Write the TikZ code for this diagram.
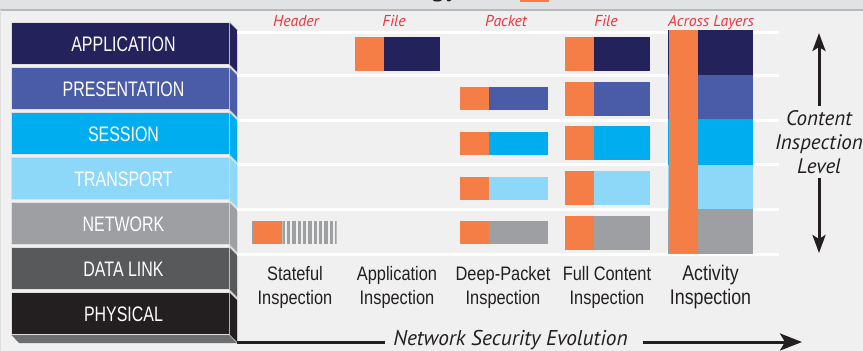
\documentclass[tikz,border=0pt]{standalone}
\usepackage{fontspec}
\newfontfamily\condfont{Liberation Sans}[FakeStretch=0.76]
\newfontfamily\labfont{Liberation Sans}[FakeStretch=0.84]
\newfontfamily\myriadfont{PT Sans}
\usetikzlibrary{arrows.meta}

\definecolor{appcol}{HTML}{23225A}
\definecolor{prescol}{HTML}{4A5BA8}
\definecolor{sesscol}{HTML}{00AEEF}
\definecolor{transcol}{HTML}{8DD8F8}
\definecolor{netcol}{HTML}{9D9FA2}
\definecolor{dlcol}{HTML}{58595B}
\definecolor{physcol}{HTML}{231F20}
\definecolor{botcol}{HTML}{6D6E70}
\definecolor{orangecol}{HTML}{F47E45}
\definecolor{bgcol}{HTML}{EFF0EF}
\definecolor{topcol}{HTML}{E1E2E4}
\definecolor{redlab}{HTML}{EC3540}
\definecolor{inktext}{HTML}{231F20}

\tikzset{
  layer/.style={rectangle, minimum width=218pt, minimum height=42.5pt, inner sep=0pt,
    draw=white!75!gray, line width=0.6pt},
  sideface/.style={fill=#1, draw=white!75!gray, line width=0.6pt},
  layertext/.style={text=white, font=\condfont\fontsize{21}{21}\selectfont,
    inner sep=0pt, xshift=3.5pt, yshift=-1.5pt},
  toplabel/.style={text=redlab, font=\myriadfont\itshape\fontsize{15.8}{15.8}\selectfont, anchor=base},
  inspect/.style={text=inktext, font=\labfont\fontsize{19.5}{24}\selectfont,
    align=center, anchor=north, inner sep=0pt},
  rowline/.style={draw=white, line width=3pt},
  vArrow/.style={draw=inktext, line width=3pt, -{Stealth[length=18pt,width=13pt,inset=4pt]}},
  hArrow/.style={draw=inktext, line width=3pt, -{Stealth[length=22pt,width=17pt,inset=5pt]}},
}

\begin{document}
\begin{tikzpicture}[x=1pt,y=-1pt]
\useasboundingbox (0,0) rectangle (863,351);
\clip (0,0) rectangle (863,351);
\fill[bgcol] (0,0) rectangle (863,351);

% title strip (cut off)
\fill[topcol] (0,0) rectangle (863,9);
\draw[gray!55, line width=1.5pt] (0,9.8) -- (863,9.8);
\draw[gray!25, line width=1pt] (0.5,10) -- (0.5,351);
\node[font=\myriadfont\bfseries\fontsize{26}{26}\selectfont, text=inktext, anchor=base east] (title) at (461,-3.7) {Technology};
\fill[orangecol] (520,-5) rectangle (549,2.2);

% OSI stack
\path[fill=botcol] (11,334.5) -- (229,334.5) -- (237,343) -- (19,343) -- cycle;
\node[layer, fill=appcol, label={[layertext]center:APPLICATION}] (app) at (120,43.25) {};
\node[layer, fill=prescol, label={[layertext]center:PRESENTATION}] (pres) at (120,88.25) {};
\node[layer, fill=sesscol, label={[layertext]center:SESSION}] (sess) at (120,133.25) {};
\node[layer, fill=transcol, label={[layertext]center:TRANSPORT}] (trans) at (120,178.25) {};
\node[layer, fill=netcol, label={[layertext]center:NETWORK}] (net) at (120,223.25) {};
\node[layer, fill=dlcol, label={[layertext]center:DATA LINK}] (dlink) at (120,268.25) {};
\node[layer, fill=physcol, label={[layertext]center:PHYSICAL}] (phys) at (120,313.25) {};
\path[sideface=appcol] (app.north east) -- ++(8,8) -- ([shift={(8,8)}]app.south east) -- (app.south east) -- cycle;
\path[sideface=prescol] (pres.north east) -- ++(8,8) -- ([shift={(8,8)}]pres.south east) -- (pres.south east) -- cycle;
\path[sideface=sesscol] (sess.north east) -- ++(8,8) -- ([shift={(8,8)}]sess.south east) -- (sess.south east) -- cycle;
\path[sideface=transcol] (trans.north east) -- ++(8,8) -- ([shift={(8,8)}]trans.south east) -- (trans.south east) -- cycle;
\path[sideface=netcol] (net.north east) -- ++(8,8) -- ([shift={(8,8)}]net.south east) -- (net.south east) -- cycle;
\path[sideface=dlcol] (dlink.north east) -- ++(8,8) -- ([shift={(8,8)}]dlink.south east) -- (dlink.south east) -- cycle;
\path[sideface=physcol] (phys.north east) -- ++(8,8) -- ([shift={(8,8)}]phys.south east) -- (phys.south east) -- cycle;

% row separators
\draw[rowline] (237,32.5) -- (779,32.5);
\draw[rowline] (237,75.8) -- (779,75.8);
\draw[rowline] (237,120.2) -- (779,120.2);
\draw[rowline] (237,164.8) -- (779,164.8);
\draw[rowline] (237,209.8) -- (779,209.8);
\draw[rowline] (237,254) -- (779,254);

% what each technique looks at
\node[toplabel] (hdr) at (296,26) {Header};
\node[toplabel] (fileA) at (394,26) {File};
\node[toplabel] (pkt) at (506,26) {Packet};
\node[toplabel] (fileB) at (606,26) {File};
\node[toplabel] (across) at (711,26) {Across Layers};

% stateful
\fill[netcol] (251.7,221) rectangle (282.3,244);
\fill[orangecol] (252.6,221) rectangle (282.3,244);
\begin{scope}
\clip (282.3,221) rectangle (336.7,244);
\foreach \k in {0,...,10}
  \fill[netcol] (281.7+5.33*\k,221) rectangle ++(3.3,23);
\end{scope}

% application
\fill[orangecol] (355,37) rectangle (384,71);
\fill[appcol] (384,37) rectangle (440,71);

% deep packet
\fill[orangecol] (460,87) rectangle (489,110);
\fill[prescol] (489,87) rectangle (548,110);
\fill[orangecol] (460,132) rectangle (489,155);
\fill[sesscol] (489,132) rectangle (548,155);
\fill[orangecol] (460,177) rectangle (489,200);
\fill[transcol] (489,177) rectangle (548,200);
\fill[orangecol] (460,221) rectangle (489,244);
\fill[netcol] (489,221) rectangle (548,244);

% full content
\fill[orangecol] (565,37) rectangle (594,71);
\fill[appcol] (594,37) rectangle (650,71);
\fill[orangecol] (565,82) rectangle (594,116);
\fill[prescol] (594,82) rectangle (650,116);
\fill[orangecol] (565,126) rectangle (594,160);
\fill[sesscol] (594,126) rectangle (650,160);
\fill[orangecol] (565,171) rectangle (594,205);
\fill[transcol] (594,171) rectangle (650,205);
\fill[orangecol] (565,216) rectangle (594,250);
\fill[netcol] (594,216) rectangle (650,250);

% activity
\fill[appcol] (668,30) rectangle (753,75);
\fill[prescol] (668,75) rectangle (753,119);
\fill[sesscol] (668,119) rectangle (753,165);
\fill[transcol] (668,165) rectangle (753,209);
\fill[netcol] (668,209) rectangle (753,254);
\fill[orangecol] (668.8,30) rectangle (697.5,252.8);

% technique names
\node[inspect] (stateful) at (295,266) {Stateful\\Inspection};
\node[inspect] (applic) at (397,266) {Application\\Inspection};
\node[inspect] (deeppkt) at (503,266) {Deep-Packet\\Inspection};
\node[inspect] (fullcont) at (607,266) {Full Content\\Inspection};
\node[inspect, font=\labfont\fontsize{21.2}{24}\selectfont] (activity) at (710.5,265) {Activity\\Inspection};

% content inspection level
\node[text=inktext, font=\myriadfont\itshape\fontsize{21}{24}\selectfont, align=center] (cil) at (819,142) {Content\\Inspection\\Level};
\coordinate (lvltop) at (819,33);
\coordinate (lvlbot) at (819,253);
\draw[vArrow, shorten <=1pt] (cil) -- (lvltop);
\draw[vArrow, shorten <=1pt] (cil) -- (lvlbot);

% evolution axis
\node[text=inktext, font=\myriadfont\itshape\fontsize{21.4}{21.4}\selectfont, anchor=base, inner xsep=8pt] (evo) at (510.5,345) {Network Security Evolution};
\coordinate (evostart) at (237,342);
\coordinate (evoend) at (802,342);
\draw[draw=inktext, line width=3pt] (evostart) -- (evostart -| evo.west);
\draw[hArrow, shorten <=7pt] (evostart -| evo.east) -- (evoend);
\end{tikzpicture}
\end{document}
